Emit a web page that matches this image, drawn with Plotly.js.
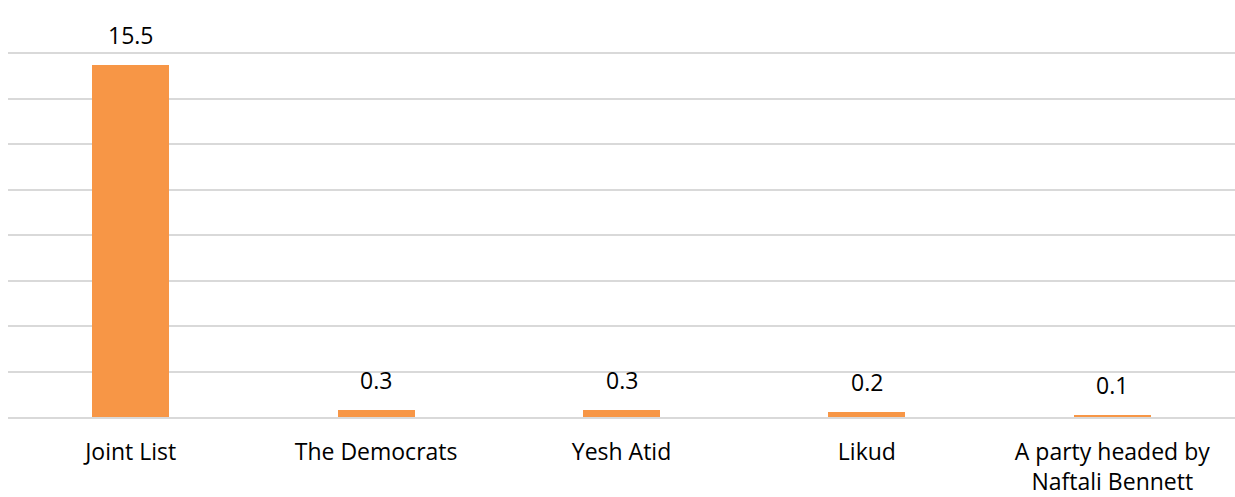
<!DOCTYPE html>
<html>
<head>
<meta charset="utf-8">
<script src="https://cdn.plot.ly/plotly-3.0.1.min.js"></script>
<style>html,body{margin:0;padding:0;background:#fff;}#chart{width:1235px;height:497px;}</style>
</head>
<body>
<div id="chart"></div>
<script>
const categories = ["Joint List", "The Democrats", "Yesh Atid", "Likud", "A party headed by<br>Naftali Bennett"];
const values = [15.5, 0.3, 0.3, 0.2, 0.1];
const valueLabels = ["15.5", "0.3", "0.3", "0.2", "0.1"];

const fontFamily = "'Open Sans', 'Liberation Sans', sans-serif";

const trace = {
  type: "bar",
  x: categories,
  y: values,
  marker: {color: "#F79646"},
  width: 0.314,
  hoverinfo: "none"
};

const annotations = categories.map((c, i) => ({
  x: c, y: values[i], xref: "x", yref: "y",
  text: valueLabels[i], showarrow: false,
  yanchor: "bottom", yshift: 12,
  font: {family: fontFamily, size: 23, color: "#000"}
}));

const layout = {
  width: 1235, height: 497,
  margin: {l: 8, r: 0, t: 8, b: 80},
  paper_bgcolor: "#fff", plot_bgcolor: "#fff",
  showlegend: false,
  bargap: 0,
  xaxis: {
    type: "category",
    showgrid: false,
    showline: true, linecolor: "#d9d9d9", linewidth: 2,
    ticks: "", ticklabelstandoff: 13,
    tickfont: {family: fontFamily, size: 23, color: "#000"}
  },
  yaxis: {
    range: [0, 18], dtick: 2, tick0: 0,
    showgrid: true, gridcolor: "#d9d9d9", gridwidth: 2,
    showticklabels: false, zeroline: false, ticks: "", showline: false
  },
  annotations: annotations
};

Plotly.newPlot("chart", [trace], layout, {displayModeBar: false, staticPlot: true});
</script>
</body>
</html>
